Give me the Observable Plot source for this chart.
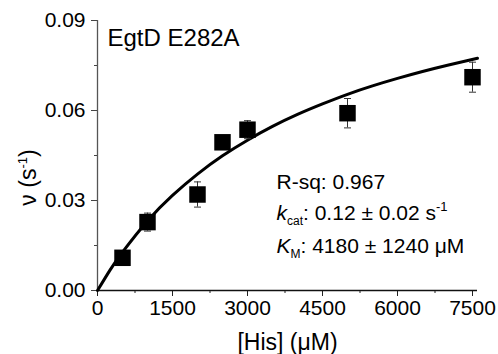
<!DOCTYPE html>
<html><head><meta charset="utf-8">
<script src="https://cdn.jsdelivr.net/npm/d3@7"></script>
<script src="https://cdn.jsdelivr.net/npm/@observablehq/plot@0.6"></script>
<style>body{margin:0;background:#fff;} svg{display:block;}</style>
</head><body><div id="chart"></div>
<script>
const hisConc = [500, 1000, 2000, 2500, 3000, 5000, 7500];
const rate    = [0.0109, 0.0228, 0.0320, 0.0494, 0.0536, 0.0591, 0.0711];
const rateErr = [0.0005, 0.0030, 0.0042, 0.0010, 0.0030, 0.0049, 0.0050];
// Fitted curve
const fitConc = [0, 250, 500, 1000, 1500, 2000, 2500, 3000, 3500, 4000, 4500, 5000, 5500, 6000, 6500, 7000, 7600];
const fitRate = [0, 0.0068, 0.0128, 0.0232, 0.0317, 0.0388, 0.0449, 0.0501, 0.0547, 0.0587, 0.0622, 0.0654, 0.0682, 0.0707, 0.0730, 0.0751, 0.0774];
// Ticks
const xTicks = [0, 1500, 3000, 4500, 6000, 7500];
const xMinor = [750, 2250, 3750, 5250, 6750];
const yTicks = [0, 0.03, 0.06, 0.09];
const yMinor = [0.015, 0.045, 0.075];
// Texts
const titleText = "EgtD E282A";
const annotLines = ["R-sq: 0.967", "kcat: 0.12 ± 0.02 s-1", "KM: 4180 ± 1240 μM"];
const xLabel = "[His] (μM)";
const yLabel = "ν (s-1)";

const points = hisConc.map((x, i) => ({x, y: rate[i], lo: rate[i] - rateErr[i], hi: rate[i] + rateErr[i]}));
const fit = fitConc.map((x, i) => ({x, y: fitRate[i]}));

const capSymbol = {draw(ctx, size) { const w = 3.5; ctx.moveTo(-w, 0); ctx.lineTo(w, 0); }};

const svg = Plot.plot({
  width: 498, height: 354,
  marginLeft: 97, marginRight: 21, marginTop: 20, marginBottom: 64,
  style: {fontFamily: "Arial, 'Liberation Sans', sans-serif", fontSize: "21px", color: "#000", background: "#fff"},
  x: {domain: [0, 7600]},
  y: {domain: [0, 0.09]},
  marks: [
    Plot.axisX({ticks: xTicks, tickSize: 6, tickPadding: 4, stroke: "#222", label: null, tickFormat: d => String(d), fontSize: 21}),
    Plot.axisX({ticks: xMinor, tickSize: 3, stroke: "#222", label: null, text: null}),
    Plot.axisY({ticks: yTicks, tickSize: 6, tickPadding: 6, stroke: "#444", label: null, tickFormat: d => d.toFixed(2), fontSize: 21}),
    Plot.axisY({ticks: yMinor, tickSize: 3, stroke: "#444", label: null, text: null}),
    Plot.ruleY([0], {stroke: "#111", strokeWidth: 1.3}),
    Plot.ruleX([0], {stroke: "#555", strokeWidth: 1.3}),
    Plot.line(fit, {x: "x", y: "y", curve: "natural", stroke: "#000", strokeWidth: 3}),
    Plot.ruleX(points, {x: "x", y1: "lo", y2: "hi", stroke: "#333", strokeWidth: 1}),
    Plot.dot(points, {x: "x", y: "lo", symbol: capSymbol, r: 4, stroke: "#333", strokeWidth: 1}),
    Plot.dot(points, {x: "x", y: "hi", symbol: capSymbol, r: 4, stroke: "#333", strokeWidth: 1}),
    Plot.dot(points, {x: "x", y: "y", symbol: "square", r: 9.3, fill: "#000", stroke: "none"}),
    Plot.text([titleText], {frameAnchor: "top-left", textAnchor: "start", lineAnchor: "top", dx: 10, dy: 8, fontSize: 24}),
    Plot.text([annotLines[0]], {frameAnchor: "top-left", textAnchor: "start", lineAnchor: "top", dx: 179, dy: 154, fontSize: 21}),
    Plot.text([annotLines[1]], {frameAnchor: "top-left", textAnchor: "start", lineAnchor: "top", dx: 179, dy: 185, fontSize: 21}),
    Plot.text([annotLines[2]], {frameAnchor: "top-left", textAnchor: "start", lineAnchor: "top", dx: 179, dy: 218, fontSize: 21}),
    Plot.text([xLabel], {frameAnchor: "bottom", textAnchor: "middle", lineAnchor: "top", dy: 43, fontSize: 23}),
    Plot.text([yLabel], {frameAnchor: "left", textAnchor: "middle", lineAnchor: "bottom", rotate: -90, dx: -62, dy: 22, fontSize: 23})
  ]
});

// rich text (italics, sub/superscripts)
const rich = {
  "ν (s-1)": {parts: [["ν (s"], ["-1", "sup"], [")"]]},
  "kcat: 0.12 ± 0.02 s-1": {parts: [["k", "it"], ["cat", "sub"], [": 0.12 ± 0.02 s"], ["-1", "sup"]]},
  "KM: 4180 ± 1240 μM": {parts: [["K", "it"], ["M", "sub"], [": 4180 ± 1240 μM"]]}
};
d3.select(svg).selectAll("text").each(function() {
  const t = this.textContent;
  const spec = rich[t];
  if (!spec) return;
  const el = d3.select(this);
  el.text(null);
  let shift = 0;
  for (const [s, kind] of spec.parts) {
    const ts = el.append("tspan").text(s);
    let target = 0;
    if (kind === "sup") { target = -9; ts.attr("font-size", "13px"); }
    else if (kind === "sub") { target = 5; ts.attr("font-size", "12px"); }
    else if (kind === "it") { ts.attr("font-style", "italic"); }
    ts.attr("dy", target - shift);
    shift = target;
  }
});
document.getElementById("chart").appendChild(svg);
</script>
</body></html>
